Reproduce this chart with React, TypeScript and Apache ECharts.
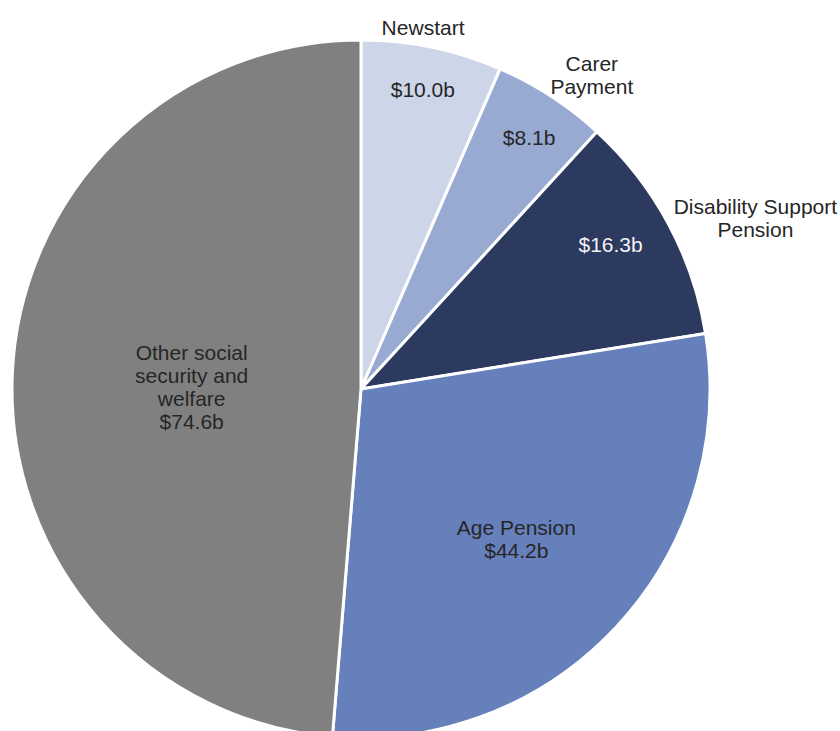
import React, { useEffect, useRef } from "react";
import * as echarts from "echarts";

// ---- Data ----
const categories = [
  "Newstart",
  "Carer Payment",
  "Disability Support Pension",
  "Age Pension",
  "Other social security and welfare",
];
const values = [10.0, 8.1, 16.3, 44.2, 74.6]; // $ billions
// Display texts (line breaks as in the reference)
const outsideNames = ["Newstart", "Carer\nPayment", "Disability Support\nPension", "", ""];
const insideNames = ["", "", "", "Age Pension", "Other social\nsecurity and\nwelfare"];
// Which labels are shown in which layer
const rimValueItems = [0, 1, 2];
const innerItems = [3, 4];
const nameItems = [0, 1, 2];

// ---- Styles ----
const sliceColors = ["#CDD5E8", "#98A9D2", "#2B3A5E", "#6680BB", "#808080"];
const valueTextColors = ["#262626", "#262626", "#F2F2F2", "#262626", "#262626"];
const FONT = "'Liberation Sans', Arial, Helvetica, sans-serif";
const CENTER = [361, 389];
const R = 349;
// small label nudges [dx, dy] in px
const rimNudge = [[-1, 3], [0, 7], [-22, 2], [0, 0], [0, 0]];
const innerNudge = [[0, 0], [0, 0], [0, 0], [25, 29], [8, 5]];
const nameNudge = [[-19, 28], [14, 20], [44, 18], [0, 0], [0, 0]];

const fmt = (v: number) => `$${v.toFixed(1)}b`;

export default function App() {
  const ref = useRef<HTMLDivElement>(null);
  useEffect(() => {
    if (!ref.current) return;
    const chart = echarts.init(ref.current, undefined, { renderer: "svg" });

    const baseLabel = {
      position: "inside",
      fontFamily: FONT,
      fontSize: 21,
      lineHeight: 23,
      color: "#262626",
      align: "center",
    };

    const mainData = categories.map((c, i) => ({
      name: c,
      value: values[i],
      itemStyle: { color: sliceColors[i] },
      label: innerItems.includes(i)
        ? {
            show: true,
            ...baseLabel,
            color: valueTextColors[i],
            formatter: `${insideNames[i]}\n${fmt(values[i])}`,
          }
        : { show: false },
    }));

    const rimData = categories.map((c, i) => ({
      name: c,
      value: values[i],
      label: rimValueItems.includes(i)
        ? {
            show: true,
            ...baseLabel,
            color: valueTextColors[i],
            formatter: fmt(values[i]),
          }
        : { show: false },
    }));

    const nameData = categories.map((c, i) => ({
      name: c,
      value: values[i],
      label: nameItems.includes(i)
        ? {
            show: true,
            ...baseLabel,
            color: "#262626",
            formatter: outsideNames[i],
          }
        : { show: false },
    }));

    const nudgeLayout = (n: number[][]) => (p: any) => ({
      dx: n[p.dataIndex][0],
      dy: n[p.dataIndex][1],
    });

    const layerCommon = {
      type: "pie",
      center: CENTER,
      startAngle: 90,
      clockwise: true,
      silent: true,
      avoidLabelOverlap: false,
      labelLine: { show: false },
      emphasis: { disabled: true },
      itemStyle: { color: "rgba(0,0,0,0)", borderWidth: 0 },
      z: 5,
    };

    chart.setOption({
      animation: false,
      backgroundColor: "#ffffff",
      series: [
        {
          type: "pie",
          center: CENTER,
          radius: [0, R],
          startAngle: 90,
          clockwise: true,
          avoidLabelOverlap: false,
          labelLine: { show: false },
          emphasis: { disabled: true },
          itemStyle: { borderColor: "#ffffff", borderWidth: 3 },
          labelLayout: nudgeLayout(innerNudge),
          data: mainData,
          z: 2,
        },
        { ...layerCommon, radius: [262, R], data: rimData, labelLayout: nudgeLayout(rimNudge) },
        { ...layerCommon, radius: [R, 441], data: nameData, labelLayout: nudgeLayout(nameNudge) },
      ],
    });
    return () => chart.dispose();
  }, []);

  return (
    <div
      ref={ref}
      style={{ position: "absolute", left: 0, top: 0, width: 840, height: 731 }}
    />
  );
}
